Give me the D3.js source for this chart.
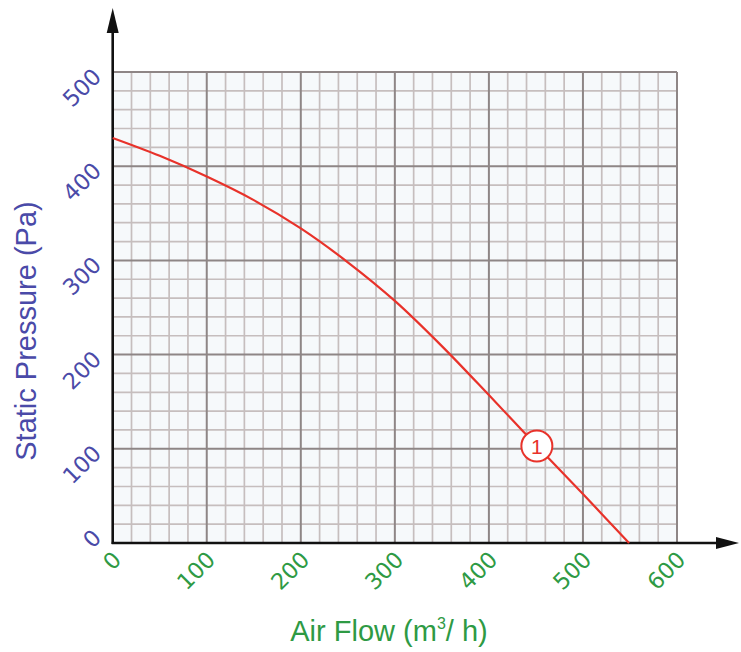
<!DOCTYPE html>
<html>
<head>
<meta charset="utf-8">
<script src="https://cdn.jsdelivr.net/npm/d3@7"></script>
<style>
  html, body { margin: 0; padding: 0; background: #ffffff; }
  svg { display: block; }
</style>
</head>
<body>
<svg id="chart" width="741" height="652"></svg>
<script>
// ---- data ----
const flowValues     = [0, 50, 100, 150, 200, 250, 300, 350, 400, 450, 500, 549];
const pressureValues = [430, 411, 389, 364, 334, 298, 257, 209, 157, 104, 52, 0];
const xTicks = [0, 100, 200, 300, 400, 500, 600];
const yTicks = [0, 100, 200, 300, 400, 500];
const curveLabel = "1";
const curveLabelFlow = 451;
const xTitle = "Air Flow (m";
const yTitle = "Static Pressure (Pa)";

// ---- layout ----
const svg = d3.select("#chart");
const x = d3.scaleLinear().domain([0, 600]).range([112.7, 677]);
const y = d3.scaleLinear().domain([0, 500]).range([543, 72]);

const blue = "#4a4aa8";
const green = "#2e9a44";
const red = "#e8322a";
const font = "'Liberation Sans', Arial, sans-serif";
const numFont = "'DejaVu Sans', sans-serif";

// background of plotting area
svg.append("rect")
  .attr("x", x(0)).attr("y", y(500))
  .attr("width", x(600) - x(0)).attr("height", y(0) - y(500))
  .attr("fill", "#f6f9fb");

// minor grid
const minorX = d3.range(0, 601, 20).filter(v => v % 100 !== 0);
const minorY = d3.range(0, 501, 20).filter(v => v % 100 !== 0);
const grid = svg.append("g");
grid.selectAll(".mx").data(minorX).join("line")
  .attr("x1", d => x(d)).attr("x2", d => x(d))
  .attr("y1", y(0)).attr("y2", y(500))
  .attr("stroke", "#c6bebe").attr("stroke-width", 1.7);
grid.selectAll(".my").data(minorY).join("line")
  .attr("y1", d => y(d)).attr("y2", d => y(d))
  .attr("x1", x(0)).attr("x2", x(600))
  .attr("stroke", "#c6bebe").attr("stroke-width", 1.7);
// major grid
grid.selectAll(".Mx").data(xTicks.filter(d => d > 0)).join("line")
  .attr("x1", d => x(d)).attr("x2", d => x(d))
  .attr("y1", y(0)).attr("y2", y(500))
  .attr("stroke", "#8e8686").attr("stroke-width", 2);
grid.selectAll(".My").data(yTicks.filter(d => d > 0)).join("line")
  .attr("y1", d => y(d)).attr("y2", d => y(d))
  .attr("x1", x(0)).attr("x2", x(600))
  .attr("stroke", "#8e8686").attr("stroke-width", 2);

// axes with arrows
svg.append("line")
  .attr("x1", x(0)).attr("x2", x(0))
  .attr("y1", y(0) + 1).attr("y2", 30)
  .attr("stroke", "#111").attr("stroke-width", 2.6);
svg.append("path")
  .attr("d", `M${x(0)},8 L${x(0) - 6},33 L${x(0) + 6},33 Z`)
  .attr("fill", "#111");
svg.append("line")
  .attr("x1", x(0) - 1).attr("x2", 720)
  .attr("y1", y(0)).attr("y2", y(0))
  .attr("stroke", "#111").attr("stroke-width", 2.6);
svg.append("path")
  .attr("d", `M739,${y(0)} L716,${y(0) - 6} L716,${y(0) + 6} Z`)
  .attr("fill", "#111");

// y tick labels
svg.append("g").selectAll("text").data(yTicks).join("text")
  .attr("transform", d => `translate(${x(0) - 10},${y(d) + (d === 0 ? -4 : 6)}) rotate(-45)`)
  .attr("text-anchor", "end")
  .attr("font-family", numFont).attr("font-size", 22.5)
  .attr("fill", blue)
  .text(d => d);

// x tick labels
svg.append("g").selectAll("text").data(xTicks).join("text")
  .attr("transform", d => `translate(${x(d) + 10},${y(0) + 18}) rotate(-45)`)
  .attr("text-anchor", "end")
  .attr("font-family", numFont).attr("font-size", 22.5)
  .attr("fill", green)
  .text(d => d);

// axis titles
svg.append("text")
  .attr("transform", `translate(36,331) rotate(-90)`)
  .attr("text-anchor", "middle")
  .attr("font-family", font).attr("font-size", 29)
  .attr("fill", blue)
  .text(yTitle);

const xt = svg.append("text")
  .attr("x", 389).attr("y", 641)
  .attr("text-anchor", "middle")
  .attr("font-family", font).attr("font-size", 29)
  .attr("fill", green);
xt.append("tspan").text(xTitle);
xt.append("tspan").attr("font-size", 16).attr("dy", -12).text("3");
xt.append("tspan").attr("dy", 12).text("/ h)");

// curve
const pts = flowValues.map((f, i) => [f, pressureValues[i]]);
const line = d3.line().x(d => x(d[0])).y(d => y(d[1])).curve(d3.curveCatmullRom.alpha(0.5));
svg.append("path")
  .datum(pts)
  .attr("d", line)
  .attr("fill", "none")
  .attr("stroke", red)
  .attr("stroke-width", 2.2);

// curve label marker
const interp = d3.scaleLinear().domain(flowValues).range(pressureValues);
const cx = x(curveLabelFlow), cy = y(interp(curveLabelFlow));
svg.append("circle")
  .attr("cx", cx).attr("cy", cy).attr("r", 15.5)
  .attr("fill", "#ffffff").attr("stroke", red).attr("stroke-width", 2);
svg.append("text")
  .attr("x", cx).attr("y", cy + 7.5)
  .attr("text-anchor", "middle")
  .attr("font-family", font).attr("font-size", 21)
  .attr("fill", red)
  .text(curveLabel);
</script>
</body>
</html>
